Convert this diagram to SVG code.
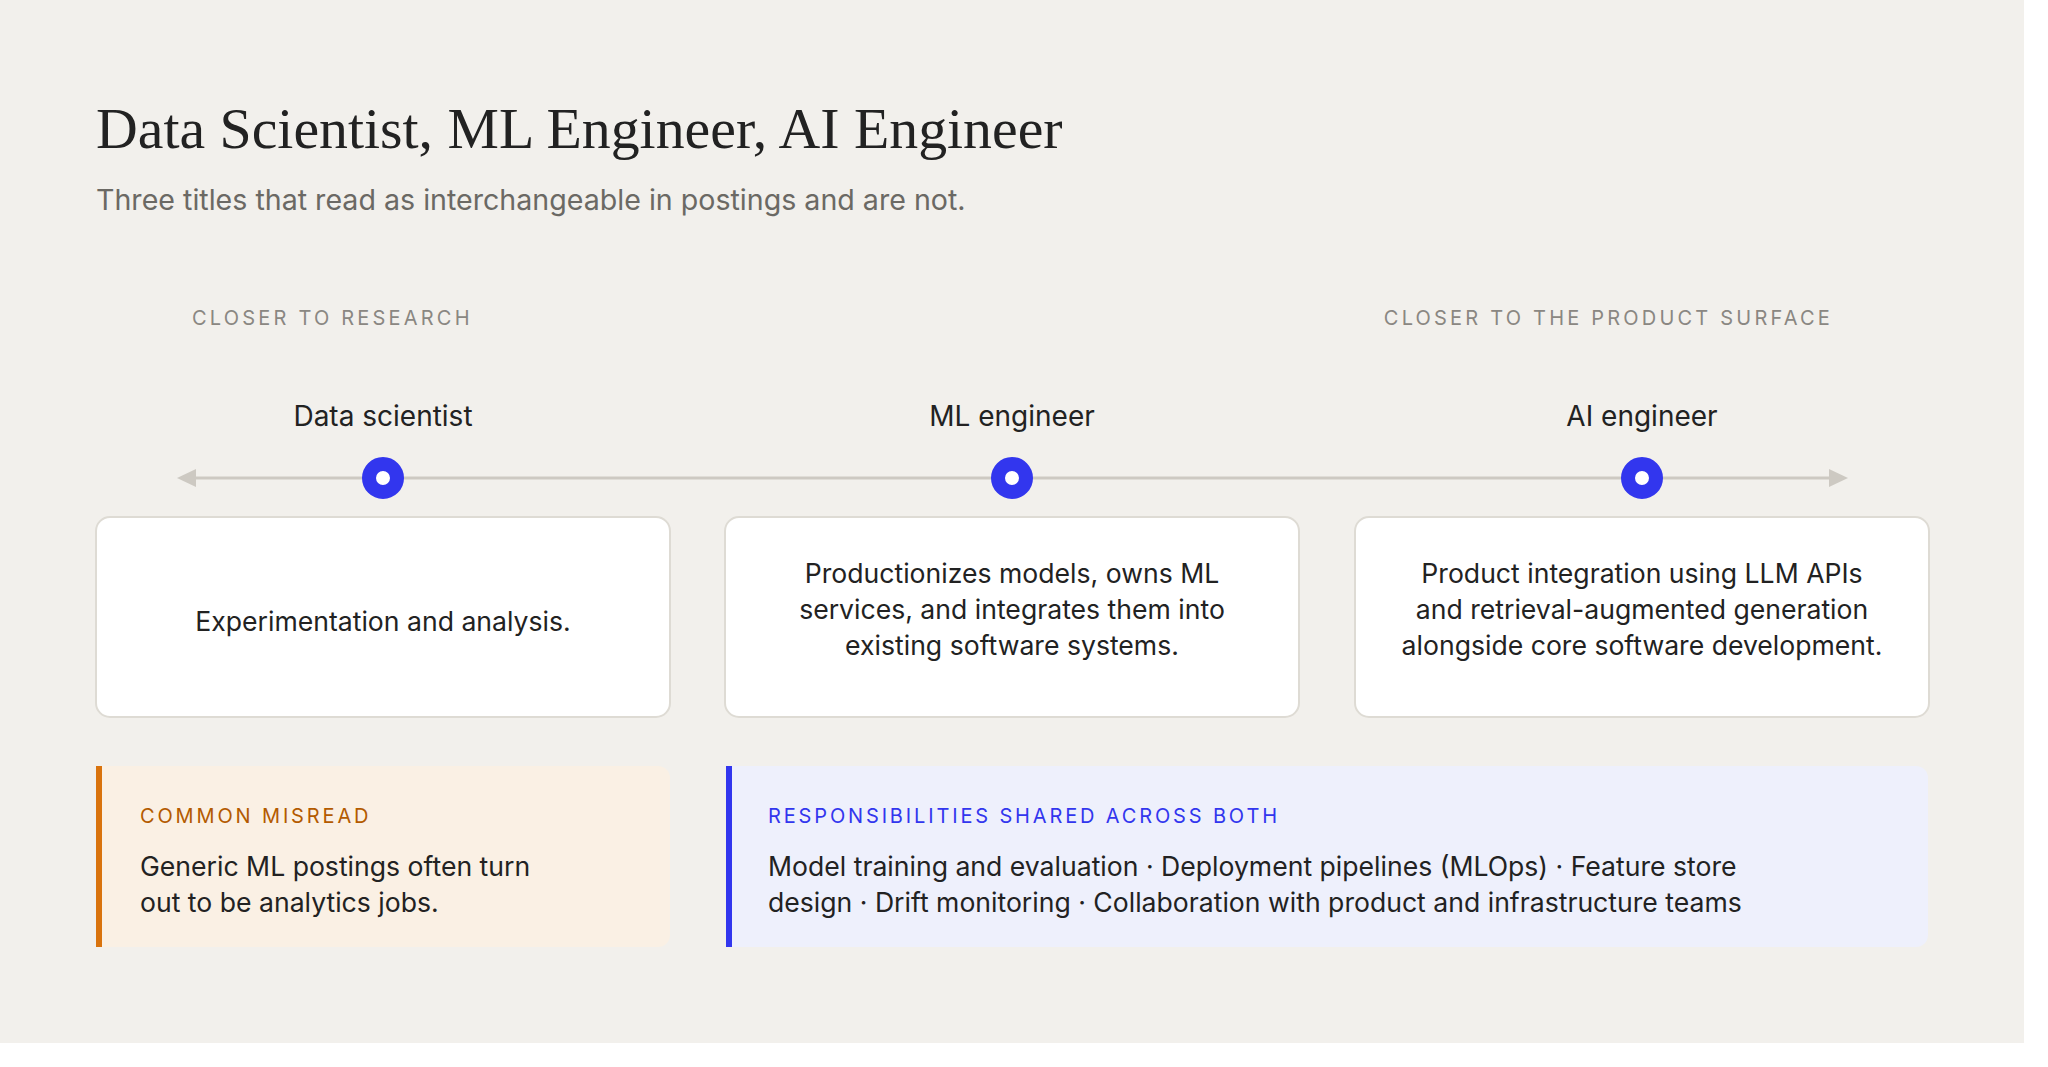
<svg xmlns="http://www.w3.org/2000/svg" width="2048" height="1067" viewBox="0 0 2048 1067">
<style>
.t{font-family:"Liberation Serif","Times New Roman",serif;font-size:57.8px;fill:#222}
.sub{font-family:Inter,"Noto Sans",sans-serif;font-size:28.6px;fill:#6b6964}
.lab{font-family:Inter,"Noto Sans",sans-serif;font-size:20px;letter-spacing:3.2px;fill:#8a8782}
.role{font-family:Inter,"Noto Sans",sans-serif;font-size:28px;fill:#222;text-anchor:middle}
.body{font-family:Inter,"Noto Sans",sans-serif;font-size:26.6px;fill:#222}
.mid{text-anchor:middle}
.card{fill:#fff;stroke:#dedbd4;stroke-width:2}
.dot{fill:#fff;stroke:#3236ee;stroke-width:14}
.axis{stroke:#cdc9c2;stroke-width:3;fill:none}
.head{fill:#cdc9c2}
.kick{font-family:Inter,"Noto Sans",sans-serif;font-size:20px;letter-spacing:2.85px}
</style>
<rect width="2048" height="1067" fill="#ffffff"/>
<rect width="2024" height="1043" fill="#f2f0ec"/>
<g id="header">
<text class="t" x="96" y="148">Data Scientist, ML Engineer, AI Engineer</text>
<text class="sub" x="96" y="210">Three titles that read as interchangeable in postings and are not.</text>
<text class="lab" x="192" y="325">CLOSER TO RESEARCH</text>
<text class="lab" x="1833" y="325" text-anchor="end">CLOSER TO THE PRODUCT SURFACE</text>
</g>
<g id="connectors">
<line class="axis" x1="194" y1="478" x2="1831" y2="478"/>
<polygon class="head" points="177,478 196,469 196,487"/>
<polygon class="head" points="1848,478 1829,469 1829,487"/>
</g>
<g id="data-scientist">
<text class="role" x="383" y="426">Data scientist</text>
<circle class="dot" cx="383" cy="478" r="14"/>
<rect class="card" x="96" y="517" width="574" height="200" rx="14"/>
<text class="body mid" x="383" y="631">Experimentation and analysis.</text>
</g>
<g id="ml-engineer">
<text class="role" x="1012" y="426">ML engineer</text>
<circle class="dot" cx="1012" cy="478" r="14"/>
<rect class="card" x="725" y="517" width="574" height="200" rx="14"/>
<text class="body mid" x="1012" y="583">Productionizes models, owns ML</text>
<text class="body mid" x="1012" y="619">services, and integrates them into</text>
<text class="body mid" x="1012" y="655">existing software systems.</text>
</g>
<g id="ai-engineer">
<text class="role" x="1642" y="426">AI engineer</text>
<circle class="dot" cx="1642" cy="478" r="14"/>
<rect class="card" x="1355" y="517" width="574" height="200" rx="14"/>
<text class="body mid" x="1642" y="583">Product integration using LLM APIs</text>
<text class="body mid" x="1642" y="619">and retrieval-augmented generation</text>
<text class="body mid" x="1642" y="655">alongside core software development.</text>
</g>
<g id="common-misread">
<path d="M96,766 H658 A12,12 0 0 1 670,778 V935 A12,12 0 0 1 658,947 H96 Z" fill="#faf0e4"/>
<rect x="96" y="766" width="6" height="181" fill="#d9730d"/>
<text class="kick" x="140" y="823" fill="#b35a00">COMMON MISREAD</text>
<text class="body" x="140" y="876">Generic ML postings often turn</text>
<text class="body" x="140" y="912">out to be analytics jobs.</text>
</g>
<g id="shared-responsibilities">
<path d="M726,766 H1916 A12,12 0 0 1 1928,778 V935 A12,12 0 0 1 1916,947 H726 Z" fill="#eef0fc"/>
<rect x="726" y="766" width="6" height="181" fill="#3236ee"/>
<text class="kick" x="768" y="823" fill="#3236ee">RESPONSIBILITIES SHARED ACROSS BOTH</text>
<text class="body" x="768" y="876">Model training and evaluation · Deployment pipelines (MLOps) · Feature store</text>
<text class="body" x="768" y="912">design · Drift monitoring · Collaboration with product and infrastructure teams</text>
</g>
</svg>
